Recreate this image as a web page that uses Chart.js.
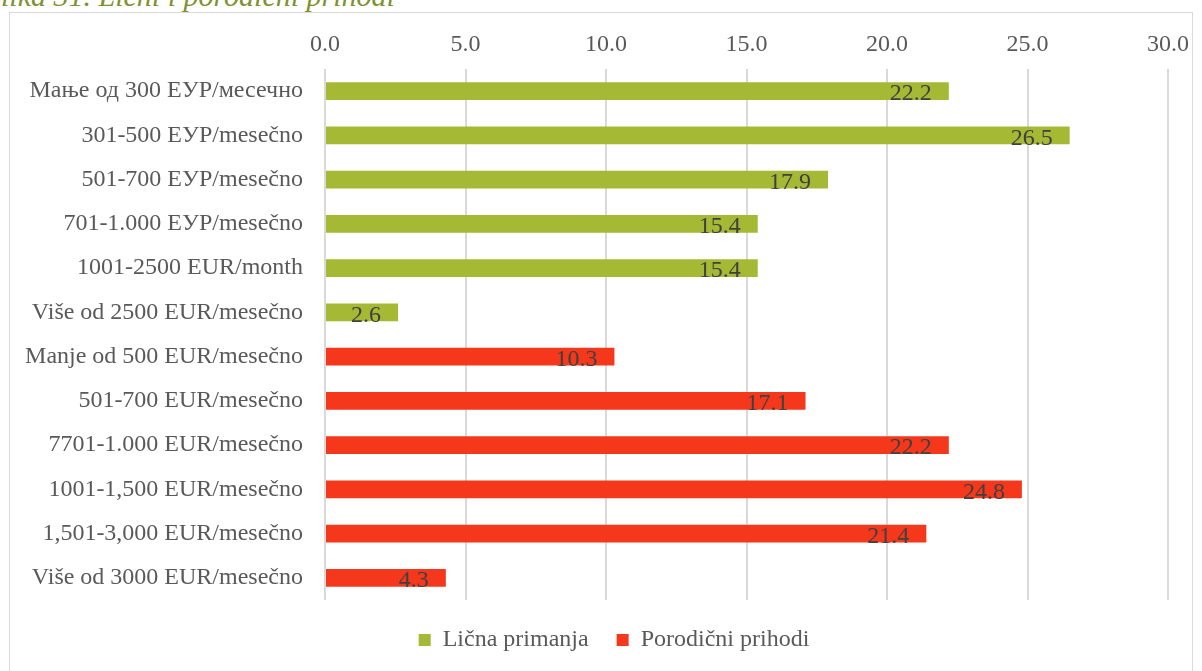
<!DOCTYPE html>
<html>
<head>
<meta charset="utf-8">
<script src="https://cdn.jsdelivr.net/npm/chart.js@4.4.1/dist/chart.umd.min.js"></script>
<style>
  html, body { margin: 0; padding: 0; background: #fff; overflow: hidden; }
  #wrap { position: relative; width: 1202px; height: 671px; }
  #title {
    position: absolute; left: -14px; top: -21px; line-height: 30px;
    font: italic 30px "Liberation Serif", "Times New Roman", serif;
    color: #7f9133; white-space: nowrap;
  }
  #frame {
    position: absolute; left: 9px; top: 12px; width: 1184px; height: 700px;
    border: 1.5px solid #d9d9d9; box-sizing: border-box;
  }
  #c { position: absolute; left: 0; top: 0; }
</style>
</head>
<body>
<div id="wrap">
  <div id="title">Slika 31. Lični i porodični prihodi</div>
  <div id="frame"></div>
  <canvas id="c" width="1202" height="671"></canvas>
</div>
<script>
// kategorije (redovi, odozgo nadole)
const categories = [
  "Мање од 300 ЕУР/месечно",
  "301-500 ЕУР/mesečno",
  "501-700 ЕУР/mesečno",
  "701-1.000 ЕУР/mesečno",
  "1001-2500 EUR/month",
  "Više od 2500 EUR/mesečno",
  "Manje od 500 EUR/mesečno",
  "501-700 EUR/mesečno",
  "7701-1.000 EUR/mesečno",
  "1001-1,500 EUR/mesečno",
  "1,501-3,000 EUR/mesečno",
  "Više od 3000 EUR/mesečno"
];
const licnaPrimanja = [22.2, 26.5, 17.9, 15.4, 15.4, 2.6];
const porodicniPrihodi = [10.3, 17.1, 22.2, 24.8, 21.4, 4.3];
const xTicks = [0, 5, 10, 15, 20, 25, 30];

const green = "#a5b935"; // maslinasto zelena
const red = "#f5371b";   // crvena
const font = "'Liberation Serif', 'Times New Roman', serif";

// prazna mesta da svaka serija ima svoje redove
const licnaData = licnaPrimanja.concat(porodicniPrihodi.map(() => null));
const porodicniData = licnaPrimanja.map(() => null).concat(porodicniPrihodi);

// labele vrednosti unutar kraja stubića
const valueLabels = {
  id: "valueLabels",
  afterDatasetsDraw(chart) {
    const ctx = chart.ctx;
    ctx.save();
    ctx.font = "24px " + font;
    ctx.fillStyle = "#404040";
    ctx.textAlign = "right";
    ctx.textBaseline = "middle";
    chart.data.datasets.forEach((ds, i) => {
      chart.getDatasetMeta(i).data.forEach((bar, j) => {
        const v = ds.data[j];
        if (v == null) return;
        ctx.fillText(v.toFixed(1), bar.x - 17, bar.y + 3);
      });
    });
    ctx.restore();
  }
};

// legenda je malo desno od sredine
const legendShift = {
  id: "legendShift",
  afterLayout(chart) {
    chart.legend.left += 30;
    chart.legend.right += 30;
  }
};

new Chart(document.getElementById("c"), {
  type: "bar",
  data: {
    labels: categories,
    datasets: [
      { label: "Lična primanja", data: licnaData, backgroundColor: green, borderWidth: 0 },
      { label: "Porodični prihodi", data: porodicniData, backgroundColor: red, borderWidth: 0 }
    ]
  },
  options: {
    indexAxis: "y",
    responsive: false,
    animation: false,
    grouped: false,
    barPercentage: 0.4,
    categoryPercentage: 1,
    layout: { padding: { left: 0, right: 34, top: 0, bottom: 9 } },
    scales: {
      x: {
        position: "top",
        min: 0,
        max: 30,
        afterBuildTicks(scale) {
          scale.ticks = xTicks.map(v => ({ value: v }));
        },
        afterFit(scale) { scale.height = 69; },
        ticks: {
          callback: v => Number(v).toFixed(1),
          font: { family: font, size: 24 },
          color: "#595959",
          padding: 10
        },
        grid: { color: "#d9d9d9", lineWidth: 2, drawTicks: false },
        border: { display: false }
      },
      y: {
        afterFit(scale) { scale.width = 325; },
        ticks: {
          font: { family: font, size: 24 },
          color: "#595959",
          padding: 22
        },
        grid: { display: false, drawTicks: false },
        border: { display: false }
      }
    },
    plugins: {
      legend: {
        position: "bottom",
        labels: {
          boxWidth: 12,
          boxHeight: 12,
          padding: 28,
          font: { family: font, size: 24 },
          color: "#595959"
        }
      },
      tooltip: { enabled: false }
    }
  },
  plugins: [valueLabels, legendShift]
});
</script>
</body>
</html>
